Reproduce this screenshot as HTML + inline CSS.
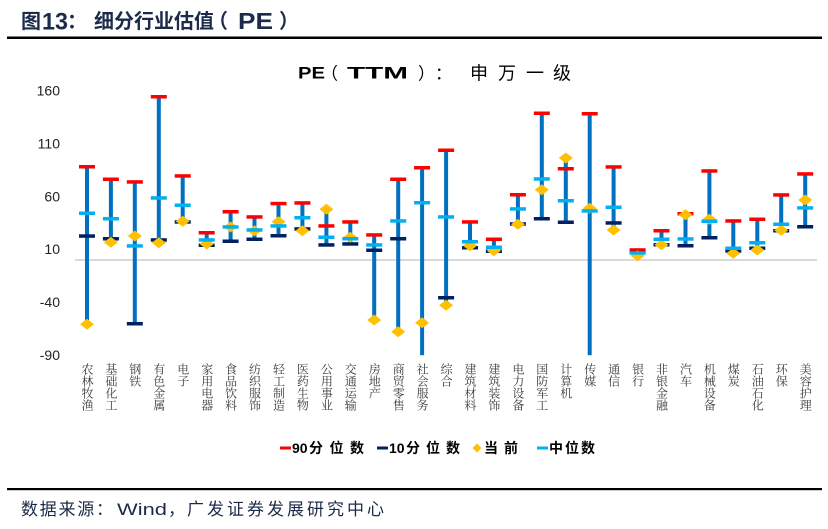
<!DOCTYPE html>
<html><head><meta charset="utf-8"><style>
html,body{margin:0;padding:0;background:#fff;}
#wrap{position:relative;width:828px;height:529px;overflow:hidden;background:#fff;}
svg{position:absolute;left:0;top:0;}
.xl{position:absolute;top:362.5px;width:12px;writing-mode:vertical-rl;text-orientation:upright;font-family:"Noto Serif CJK SC","Noto Sans CJK SC",serif;font-size:12px;line-height:12px;color:#3a3a3a;white-space:nowrap;}
</style></head><body><div id="wrap">
<svg width="828" height="529" viewBox="0 0 828 529" xmlns="http://www.w3.org/2000/svg">
<rect width="828" height="529" fill="#fff"/>
<!-- main title -->
<g fill="#1C2B4A" font-weight="bold">
<text x="21" y="28" font-family="'Noto Sans CJK SC',sans-serif" font-size="20">图</text>
<text x="42" y="29.3" font-family="'Liberation Sans',sans-serif" font-size="24" textLength="26" lengthAdjust="spacingAndGlyphs">13</text>
<text x="67" y="28" font-family="'Noto Sans CJK SC',sans-serif" font-size="20">：</text>
<text x="94" y="28" font-family="'Noto Sans CJK SC',sans-serif" font-size="20" textLength="120" lengthAdjust="spacing">细分行业估值</text>
<text x="208" y="28" font-family="'Noto Sans CJK SC',sans-serif" font-size="20">（</text>
<text x="238" y="29" font-family="'Liberation Sans',sans-serif" font-size="23" textLength="35" lengthAdjust="spacingAndGlyphs">PE</text>
<text x="279" y="28" font-family="'Noto Sans CJK SC',sans-serif" font-size="20">）</text>
</g>
<rect x="7" y="36.5" width="815" height="2.5" fill="#000"/>
<!-- chart title -->
<g fill="#000">
<text x="298" y="78.7" font-family="'Liberation Sans',sans-serif" font-weight="bold" font-size="17" textLength="27" lengthAdjust="spacingAndGlyphs">PE</text>
<text x="321" y="79.5" font-family="'Noto Sans CJK SC',sans-serif" font-size="17">（</text>
<text x="347" y="78.7" font-family="'Liberation Sans',sans-serif" font-weight="bold" font-size="17" textLength="61" lengthAdjust="spacingAndGlyphs">TTM</text>
<text x="418" y="79.5" font-family="'Noto Sans CJK SC',sans-serif" font-size="17">）</text>
<text x="435" y="79.5" font-family="'Noto Sans CJK SC',sans-serif" font-size="17">：</text>
<g font-family="'Noto Sans CJK SC',sans-serif" font-size="18" text-anchor="middle">
<text x="479" y="79.5">申</text><text x="507" y="79.5">万</text><text x="535" y="79.5">一</text><text x="562" y="79.5">级</text>
</g>
</g>
<!-- y axis labels -->
<g font-family="'Liberation Sans',sans-serif" font-size="14" fill="#222" text-anchor="end">
<text x="60" y="95.5">160</text>
<text x="60" y="148.4">110</text>
<text x="60" y="201.3">60</text>
<text x="60" y="254.2">10</text>
<text x="60" y="307.1">-40</text>
<text x="60" y="360.1">-90</text>
</g>
<!-- zero line -->
<rect x="75" y="259" width="742" height="2" fill="#D9D9D9"/>
<!-- series -->
<g id="s">
<g transform="translate(87,0)"><rect x="-2" y="166.7" width="4" height="157.6" fill="#0070C0"/><rect x="-8" y="165" width="16" height="3.5" fill="#FF0000"/><rect x="-8" y="234.3" width="16" height="3.5" fill="#002060"/><polygon points="0,318.8 7,324.3 0,329.8 -7,324.3" fill="#FFC000"/><rect x="-8" y="211.5" width="16" height="3.5" fill="#00B0F0"/></g>
<g transform="translate(110.9,0)"><rect x="-2" y="179.3" width="4" height="63" fill="#0070C0"/><rect x="-8" y="177.5" width="16" height="3.5" fill="#FF0000"/><rect x="-8" y="237" width="16" height="3.5" fill="#002060"/><polygon points="0,236.8 7,242.3 0,247.8 -7,242.3" fill="#FFC000"/><rect x="-8" y="217" width="16" height="3.5" fill="#00B0F0"/></g>
<g transform="translate(134.8,0)"><rect x="-2" y="182" width="4" height="141.7" fill="#0070C0"/><rect x="-8" y="180.2" width="16" height="3.5" fill="#FF0000"/><rect x="-8" y="322" width="16" height="3.5" fill="#002060"/><polygon points="0,230.5 7,236 0,241.5 -7,236" fill="#FFC000"/><rect x="-8" y="244.2" width="16" height="3.5" fill="#00B0F0"/></g>
<g transform="translate(158.8,0)"><rect x="-2" y="96.7" width="4" height="146" fill="#0070C0"/><rect x="-8" y="95" width="16" height="3.5" fill="#FF0000"/><rect x="-8" y="238.2" width="16" height="3.5" fill="#002060"/><polygon points="0,237.2 7,242.7 0,248.2 -7,242.7" fill="#FFC000"/><rect x="-8" y="196.2" width="16" height="3.5" fill="#00B0F0"/></g>
<g transform="translate(182.7,0)"><rect x="-2" y="176" width="4" height="46" fill="#0070C0"/><rect x="-8" y="174.2" width="16" height="3.5" fill="#FF0000"/><rect x="-8" y="220.2" width="16" height="3.5" fill="#002060"/><polygon points="0,215.8 7,221.3 0,226.8 -7,221.3" fill="#FFC000"/><rect x="-8" y="203.5" width="16" height="3.5" fill="#00B0F0"/></g>
<g transform="translate(206.7,0)"><rect x="-2" y="232.7" width="4" height="12.6" fill="#0070C0"/><rect x="-8" y="231" width="16" height="3.5" fill="#FF0000"/><rect x="-8" y="243.5" width="16" height="3.5" fill="#002060"/><polygon points="0,238.5 7,244 0,249.5 -7,244" fill="#FFC000"/><rect x="-8" y="238.2" width="16" height="3.5" fill="#00B0F0"/></g>
<g transform="translate(230.6,0)"><rect x="-2" y="211.7" width="4" height="29.6" fill="#0070C0"/><rect x="-8" y="210" width="16" height="3.5" fill="#FF0000"/><rect x="-8" y="239.5" width="16" height="3.5" fill="#002060"/><polygon points="0,221.5 7,227 0,232.5 -7,227" fill="#FFC000"/><rect x="-8" y="225.2" width="16" height="3.5" fill="#00B0F0"/></g>
<g transform="translate(254.5,0)"><rect x="-2" y="217" width="4" height="22.3" fill="#0070C0"/><rect x="-8" y="215.2" width="16" height="3.5" fill="#FF0000"/><rect x="-8" y="237.5" width="16" height="3.5" fill="#002060"/><polygon points="0,225.2 7,230.7 0,236.2 -7,230.7" fill="#FFC000"/><rect x="-8" y="228.2" width="16" height="3.5" fill="#00B0F0"/></g>
<g transform="translate(278.5,0)"><rect x="-2" y="203.5" width="4" height="32.2" fill="#0070C0"/><rect x="-8" y="201.8" width="16" height="3.5" fill="#FF0000"/><rect x="-8" y="234" width="16" height="3.5" fill="#002060"/><polygon points="0,216.2 7,221.7 0,227.2 -7,221.7" fill="#FFC000"/><rect x="-8" y="224.2" width="16" height="3.5" fill="#00B0F0"/></g>
<g transform="translate(302.4,0)"><rect x="-2" y="203" width="4" height="27.7" fill="#0070C0"/><rect x="-8" y="201.2" width="16" height="3.5" fill="#FF0000"/><rect x="-8" y="227.2" width="16" height="3.5" fill="#002060"/><polygon points="0,225.2 7,230.7 0,236.2 -7,230.7" fill="#FFC000"/><rect x="-8" y="216" width="16" height="3.5" fill="#00B0F0"/></g>
<g transform="translate(326.4,0)"><rect x="-2" y="209.3" width="4" height="35.7" fill="#0070C0"/><rect x="-8" y="224.2" width="16" height="3.5" fill="#FF0000"/><rect x="-8" y="243.2" width="16" height="3.5" fill="#002060"/><polygon points="0,203.8 7,209.3 0,214.8 -7,209.3" fill="#FFC000"/><rect x="-8" y="235.5" width="16" height="3.5" fill="#00B0F0"/></g>
<g transform="translate(350.3,0)"><rect x="-2" y="222" width="4" height="22" fill="#0070C0"/><rect x="-8" y="220.2" width="16" height="3.5" fill="#FF0000"/><rect x="-8" y="242.2" width="16" height="3.5" fill="#002060"/><polygon points="0,231.8 7,237.3 0,242.8 -7,237.3" fill="#FFC000"/><rect x="-8" y="237" width="16" height="3.5" fill="#00B0F0"/></g>
<g transform="translate(374.2,0)"><rect x="-2" y="235" width="4" height="85" fill="#0070C0"/><rect x="-8" y="233.2" width="16" height="3.5" fill="#FF0000"/><rect x="-8" y="248.5" width="16" height="3.5" fill="#002060"/><polygon points="0,314.5 7,320 0,325.5 -7,320" fill="#FFC000"/><rect x="-8" y="243.2" width="16" height="3.5" fill="#00B0F0"/></g>
<g transform="translate(398.2,0)"><rect x="-2" y="179.3" width="4" height="152.4" fill="#0070C0"/><rect x="-8" y="177.5" width="16" height="3.5" fill="#FF0000"/><rect x="-8" y="237" width="16" height="3.5" fill="#002060"/><polygon points="0,326.2 7,331.7 0,337.2 -7,331.7" fill="#FFC000"/><rect x="-8" y="219.2" width="16" height="3.5" fill="#00B0F0"/></g>
<g transform="translate(422.1,0)"><rect x="-2" y="167.7" width="4" height="187.5" fill="#0070C0"/><rect x="-8" y="166" width="16" height="3.5" fill="#FF0000"/><polygon points="0,317.2 7,322.7 0,328.2 -7,322.7" fill="#FFC000"/><rect x="-8" y="201" width="16" height="3.5" fill="#00B0F0"/></g>
<g transform="translate(446.1,0)"><rect x="-2" y="150.3" width="4" height="155" fill="#0070C0"/><rect x="-8" y="148.5" width="16" height="3.5" fill="#FF0000"/><rect x="-8" y="296" width="16" height="3.5" fill="#002060"/><polygon points="0,299.8 7,305.3 0,310.8 -7,305.3" fill="#FFC000"/><rect x="-8" y="215.2" width="16" height="3.5" fill="#00B0F0"/></g>
<g transform="translate(470,0)"><rect x="-2" y="222" width="4" height="25.7" fill="#0070C0"/><rect x="-8" y="220.2" width="16" height="3.5" fill="#FF0000"/><rect x="-8" y="246" width="16" height="3.5" fill="#002060"/><polygon points="0,240.2 7,245.7 0,251.2 -7,245.7" fill="#FFC000"/><rect x="-8" y="240" width="16" height="3.5" fill="#00B0F0"/></g>
<g transform="translate(493.9,0)"><rect x="-2" y="239.3" width="4" height="12" fill="#0070C0"/><rect x="-8" y="237.5" width="16" height="3.5" fill="#FF0000"/><rect x="-8" y="249.5" width="16" height="3.5" fill="#002060"/><polygon points="0,245.2 7,250.7 0,256.2 -7,250.7" fill="#FFC000"/><rect x="-8" y="245.5" width="16" height="3.5" fill="#00B0F0"/></g>
<g transform="translate(517.9,0)"><rect x="-2" y="194.7" width="4" height="29.6" fill="#0070C0"/><rect x="-8" y="193" width="16" height="3.5" fill="#FF0000"/><rect x="-8" y="222.2" width="16" height="3.5" fill="#002060"/><polygon points="0,218.8 7,224.3 0,229.8 -7,224.3" fill="#FFC000"/><rect x="-8" y="207.2" width="16" height="3.5" fill="#00B0F0"/></g>
<g transform="translate(541.8,0)"><rect x="-2" y="113.3" width="4" height="105.4" fill="#0070C0"/><rect x="-8" y="111.5" width="16" height="3.5" fill="#FF0000"/><rect x="-8" y="217" width="16" height="3.5" fill="#002060"/><polygon points="0,184.2 7,189.7 0,195.2 -7,189.7" fill="#FFC000"/><rect x="-8" y="177.2" width="16" height="3.5" fill="#00B0F0"/></g>
<g transform="translate(565.8,0)"><rect x="-2" y="158" width="4" height="64.3" fill="#0070C0"/><rect x="-8" y="167" width="16" height="3.5" fill="#FF0000"/><rect x="-8" y="220.5" width="16" height="3.5" fill="#002060"/><polygon points="0,152.5 7,158 0,163.5 -7,158" fill="#FFC000"/><rect x="-8" y="199" width="16" height="3.5" fill="#00B0F0"/></g>
<g transform="translate(589.7,0)"><rect x="-2" y="113.7" width="4" height="241.5" fill="#0070C0"/><rect x="-8" y="112" width="16" height="3.5" fill="#FF0000"/><polygon points="0,202.8 7,208.3 0,213.8 -7,208.3" fill="#FFC000"/><rect x="-8" y="209.2" width="16" height="3.5" fill="#00B0F0"/></g>
<g transform="translate(613.6,0)"><rect x="-2" y="167" width="4" height="63" fill="#0070C0"/><rect x="-8" y="165.2" width="16" height="3.5" fill="#FF0000"/><rect x="-8" y="221.2" width="16" height="3.5" fill="#002060"/><polygon points="0,224.5 7,230 0,235.5 -7,230" fill="#FFC000"/><rect x="-8" y="205.5" width="16" height="3.5" fill="#00B0F0"/></g>
<g transform="translate(637.6,0)"><rect x="-2" y="250" width="4" height="5.7" fill="#0070C0"/><rect x="-8" y="248.2" width="16" height="3.5" fill="#FF0000"/><rect x="-8" y="250.8" width="16" height="3.5" fill="#002060"/><polygon points="0,250.2 7,255.7 0,261.2 -7,255.7" fill="#FFC000"/><rect x="-8" y="251.2" width="16" height="3.5" fill="#00B0F0"/></g>
<g transform="translate(661.5,0)"><rect x="-2" y="230.7" width="4" height="14" fill="#0070C0"/><rect x="-8" y="229" width="16" height="3.5" fill="#FF0000"/><rect x="-8" y="243" width="16" height="3.5" fill="#002060"/><polygon points="0,239.2 7,244.7 0,250.2 -7,244.7" fill="#FFC000"/><rect x="-8" y="237.5" width="16" height="3.5" fill="#00B0F0"/></g>
<g transform="translate(685.5,0)"><rect x="-2" y="213.7" width="4" height="32" fill="#0070C0"/><rect x="-8" y="212" width="16" height="3.5" fill="#FF0000"/><rect x="-8" y="244" width="16" height="3.5" fill="#002060"/><polygon points="0,209.2 7,214.7 0,220.2 -7,214.7" fill="#FFC000"/><rect x="-8" y="237.2" width="16" height="3.5" fill="#00B0F0"/></g>
<g transform="translate(709.4,0)"><rect x="-2" y="171" width="4" height="66.7" fill="#0070C0"/><rect x="-8" y="169.2" width="16" height="3.5" fill="#FF0000"/><rect x="-8" y="236" width="16" height="3.5" fill="#002060"/><polygon points="0,213.8 7,219.3 0,224.8 -7,219.3" fill="#FFC000"/><rect x="-8" y="219.5" width="16" height="3.5" fill="#00B0F0"/></g>
<g transform="translate(733.3,0)"><rect x="-2" y="221" width="4" height="32.3" fill="#0070C0"/><rect x="-8" y="219.2" width="16" height="3.5" fill="#FF0000"/><rect x="-8" y="249.2" width="16" height="3.5" fill="#002060"/><polygon points="0,247.8 7,253.3 0,258.8 -7,253.3" fill="#FFC000"/><rect x="-8" y="246.5" width="16" height="3.5" fill="#00B0F0"/></g>
<g transform="translate(757.3,0)"><rect x="-2" y="219.3" width="4" height="30.7" fill="#0070C0"/><rect x="-8" y="217.5" width="16" height="3.5" fill="#FF0000"/><rect x="-8" y="246.5" width="16" height="3.5" fill="#002060"/><polygon points="0,244.5 7,250 0,255.5 -7,250" fill="#FFC000"/><rect x="-8" y="241" width="16" height="3.5" fill="#00B0F0"/></g>
<g transform="translate(781.2,0)"><rect x="-2" y="195" width="4" height="35.7" fill="#0070C0"/><rect x="-8" y="193.2" width="16" height="3.5" fill="#FF0000"/><rect x="-8" y="229" width="16" height="3.5" fill="#002060"/><polygon points="0,224.8 7,230.3 0,235.8 -7,230.3" fill="#FFC000"/><rect x="-8" y="222.5" width="16" height="3.5" fill="#00B0F0"/></g>
<g transform="translate(805.2,0)"><rect x="-2" y="174" width="4" height="52.7" fill="#0070C0"/><rect x="-8" y="172.2" width="16" height="3.5" fill="#FF0000"/><rect x="-8" y="225" width="16" height="3.5" fill="#002060"/><polygon points="0,194.5 7,200 0,205.5 -7,200" fill="#FFC000"/><rect x="-8" y="206.2" width="16" height="3.5" fill="#00B0F0"/></g>
</g>
<!-- legend -->
<g font-weight="bold" fill="#000">
<rect x="280" y="446.5" width="11" height="3" fill="#FF0000"/>
<text x="292" y="453" font-family="'Liberation Sans',sans-serif" font-size="14">90</text>
<text x="309" y="453" font-family="'Noto Sans CJK SC',sans-serif" font-size="14" textLength="55" lengthAdjust="spacing">分位数</text>
<rect x="377" y="446.5" width="11" height="3" fill="#002060"/>
<text x="389" y="453" font-family="'Liberation Sans',sans-serif" font-size="14">10</text>
<text x="406" y="453" font-family="'Noto Sans CJK SC',sans-serif" font-size="14" textLength="54" lengthAdjust="spacing">分位数</text>
<polygon points="477,443.5 481.5,448 477,452.5 472.5,448" fill="#FFC000"/>
<text x="484" y="453" font-family="'Noto Sans CJK SC',sans-serif" font-size="14" textLength="34" lengthAdjust="spacing">当前</text>
<rect x="537" y="446.5" width="11" height="3" fill="#00B0F0"/>
<text x="549" y="453" font-family="'Noto Sans CJK SC',sans-serif" font-size="14" textLength="46" lengthAdjust="spacing">中位数</text>
</g>
<!-- source -->
<rect x="7" y="488" width="815" height="2.2" fill="#000"/>
<g fill="#1C2B4A" font-size="17">
<text x="21" y="515" font-family="'Noto Sans CJK SC',sans-serif" textLength="92" lengthAdjust="spacing">数据来源：</text>
<text x="117" y="515" font-family="'Liberation Sans',sans-serif" textLength="50" lengthAdjust="spacingAndGlyphs">Wind</text>
<text x="168" y="515" font-family="'Noto Sans CJK SC',sans-serif">，</text>
<text x="187" y="515" font-family="'Noto Sans CJK SC',sans-serif" textLength="197" lengthAdjust="spacing">广发证券发展研究中心</text>
</g>
</svg>
<!-- x labels -->
<div class="xl" style="left:81px">农林牧渔</div>
<div class="xl" style="left:104.9px">基础化工</div>
<div class="xl" style="left:128.8px">钢铁</div>
<div class="xl" style="left:152.8px">有色金属</div>
<div class="xl" style="left:176.7px">电子</div>
<div class="xl" style="left:200.7px">家用电器</div>
<div class="xl" style="left:224.6px">食品饮料</div>
<div class="xl" style="left:248.5px">纺织服饰</div>
<div class="xl" style="left:272.5px">轻工制造</div>
<div class="xl" style="left:296.4px">医药生物</div>
<div class="xl" style="left:320.4px">公用事业</div>
<div class="xl" style="left:344.3px">交通运输</div>
<div class="xl" style="left:368.2px">房地产</div>
<div class="xl" style="left:392.2px">商贸零售</div>
<div class="xl" style="left:416.1px">社会服务</div>
<div class="xl" style="left:440.1px">综合</div>
<div class="xl" style="left:464px">建筑材料</div>
<div class="xl" style="left:487.9px">建筑装饰</div>
<div class="xl" style="left:511.9px">电力设备</div>
<div class="xl" style="left:535.8px">国防军工</div>
<div class="xl" style="left:559.8px">计算机</div>
<div class="xl" style="left:583.7px">传媒</div>
<div class="xl" style="left:607.6px">通信</div>
<div class="xl" style="left:631.6px">银行</div>
<div class="xl" style="left:655.5px">非银金融</div>
<div class="xl" style="left:679.5px">汽车</div>
<div class="xl" style="left:703.4px">机械设备</div>
<div class="xl" style="left:727.3px">煤炭</div>
<div class="xl" style="left:751.3px">石油石化</div>
<div class="xl" style="left:775.2px">环保</div>
<div class="xl" style="left:799.2px">美容护理</div>
</div></body></html>
